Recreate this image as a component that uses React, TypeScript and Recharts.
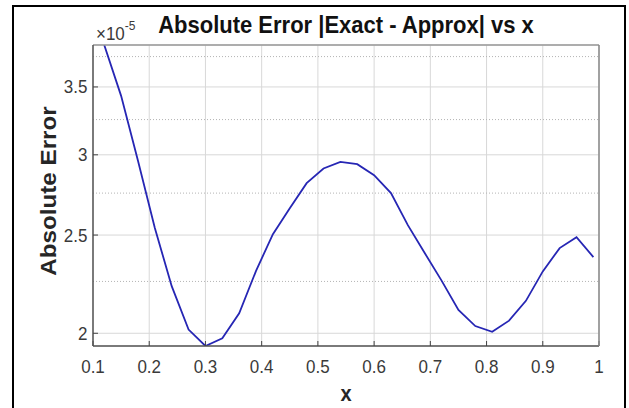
import React from 'react';
import {
  LineChart,
  Line,
  XAxis,
  YAxis,
  CartesianGrid,
  ReferenceLine,
  Label,
} from 'recharts';

// x samples and absolute error (in units of 1e-5)
const xValues = [
  0.12, 0.15, 0.18, 0.21, 0.24, 0.27, 0.3, 0.33, 0.36, 0.39,
  0.42, 0.45, 0.48, 0.51, 0.54, 0.57, 0.6, 0.63, 0.66, 0.69,
  0.72, 0.75, 0.78, 0.81, 0.84, 0.87, 0.9, 0.93, 0.96, 0.99,
];
const absError = [
  3.85, 3.43, 2.96, 2.54, 2.226, 2.017, 1.943, 1.977, 2.093, 2.305,
  2.505, 2.657, 2.813, 2.908, 2.952, 2.937, 2.864, 2.75, 2.557, 2.4,
  2.254, 2.109, 2.033, 2.007, 2.058, 2.153, 2.302, 2.427, 2.488, 2.378,
];

const xTicks = [0.1, 0.2, 0.3, 0.4, 0.5, 0.6, 0.7, 0.8, 0.9, 1];
const yTicks = [2, 2.5, 3, 3.5];
const yMinorTicks = [2.25, 2.75, 3.25, 3.75];
const xDomain = [0.1, 1];
const yDomain = [1.943, 3.85];

const data = xValues.map((x, i) => ({ x, err: absError[i] }));

const FONT = '"Liberation Sans", Arial, Helvetica, sans-serif';
const S = 1.1; // the picture is a bit stretched vertically
const stretch = (y: number) => `matrix(1 0 0 ${S} 0 ${y - S * y})`;

const XTick = (props: any) => {
  const { x, y, payload } = props;
  const by = y + 27;
  return (
    <text x={x} y={by} textAnchor="middle" fontSize={17} fontFamily={FONT} fill="#3a3a3a" transform={stretch(by)}>
      {String(payload.value)}
    </text>
  );
};

const YTick = (props: any) => {
  const { x, y, payload } = props;
  const by = y + 6.5;
  return (
    <text x={x - 5.5} y={by} textAnchor="end" fontSize={17} fontFamily={FONT} fill="#3a3a3a" transform={stretch(by)}>
      {String(payload.value)}
    </text>
  );
};

const YTitle = (props: any) => {
  const { viewBox } = props;
  const x = viewBox.x + 15;
  const y = 191;
  return (
    <text
      x={x}
      y={y}
      dy="0.36em"
      textAnchor="middle"
      fontSize={22}
      fontWeight="bold"
      fontFamily={FONT}
      fill="#262626"
      transform={`${stretch(y)} rotate(-90 ${x} ${y})`}
    >
      Absolute Error
    </text>
  );
};

const XTitle = (props: any) => {
  const { viewBox } = props;
  const x = viewBox.x + viewBox.width / 2;
  const y = 401;
  return (
    <text x={x} y={y} textAnchor="middle" fontSize={20} fontWeight="bold" fontFamily={FONT} fill="#262626" transform={stretch(y)}>
      x
    </text>
  );
};

export default function App() {
  return (
    <div style={{ position: 'fixed', left: 0, top: 0, width: 629, height: 408, background: '#fff', overflow: 'hidden' }}>
      <div
        style={{
          position: 'absolute',
          left: 12,
          top: 5,
          width: 614,
          height: 460,
          border: '2px solid #000',
          boxSizing: 'border-box',
        }}
      />
      <div style={{ position: 'absolute', left: 0, top: 0 }}>
        <LineChart width={629} height={408} data={data} margin={{ top: 44, right: 29, bottom: 2, left: 33 }}>
          <CartesianGrid xAxisId="b" yAxisId="l" stroke="#d8d8d8" strokeWidth={1} />
          {yMinorTicks.map((v) => (
            <ReferenceLine key={v} xAxisId="b" yAxisId="l" y={v} stroke="#b4b4b4" strokeDasharray="1 2" />
          ))}
          <XAxis
            xAxisId="b"
            dataKey="x"
            type="number"
            domain={xDomain}
            ticks={xTicks}
            allowDataOverflow
            height={60}
            tickSize={-5}
            tickMargin={5}
            tick={<XTick />}
            stroke="#444"
            axisLine={{ stroke: '#555', strokeWidth: 1.5 }}
          >
            <Label content={<XTitle />} />
          </XAxis>
          <XAxis
            xAxisId="t"
            orientation="top"
            dataKey="x"
            type="number"
            domain={xDomain}
            ticks={xTicks}
            allowDataOverflow
            height={1}
            tickSize={-5}
            tick={false}
            stroke="#666"
            axisLine={{ stroke: '#999', strokeWidth: 1.5 }}
          />
          <YAxis
            yAxisId="l"
            scale="log"
            type="number"
            domain={yDomain}
            ticks={yTicks}
            allowDataOverflow
            width={60}
            tickSize={-5}
            tickMargin={5}
            tick={<YTick />}
            stroke="#444"
            axisLine={{ stroke: '#555', strokeWidth: 1.5 }}
          >
            <Label content={<YTitle />} />
          </YAxis>
          <YAxis
            yAxisId="r"
            orientation="right"
            scale="log"
            type="number"
            domain={yDomain}
            ticks={yTicks}
            allowDataOverflow
            width={1}
            tickSize={-5}
            tick={false}
            stroke="#666"
            axisLine={{ stroke: '#888', strokeWidth: 1.5 }}
          />
          <Line
            xAxisId="b"
            yAxisId="l"
            type="linear"
            dataKey="err"
            stroke="#2626b4"
            strokeWidth={1.8}
            dot={false}
            isAnimationActive={false}
          />
        </LineChart>
      </div>
      <svg width={629} height={408} style={{ position: 'absolute', left: 0, top: 0, pointerEvents: 'none' }}>
        <text x={346} y={33} textAnchor="middle" fontSize={22} fontWeight="bold" fontFamily={FONT} fill="#111" transform={stretch(33)}>
          Absolute Error |Exact - Approx| vs x
        </text>
        <text x={96} y={40} fontSize={17} fontFamily={FONT} fill="#3a3a3a" transform={stretch(40)}>
          ×10<tspan fontSize={12} dy={-9}>-5</tspan>
        </text>
      </svg>
    </div>
  );
}
